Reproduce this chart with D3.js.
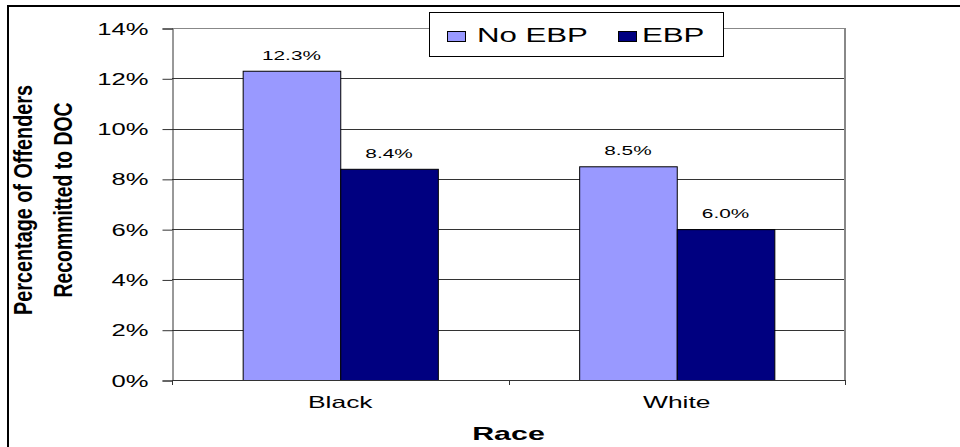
<!DOCTYPE html>
<html>
<head>
<meta charset="utf-8">
<script src="https://cdn.jsdelivr.net/npm/d3@7"></script>
<style>
  html, body { margin: 0; padding: 0; background: #fff; }
  svg { display: block; font-family: "Liberation Sans", Arial, sans-serif; }
</style>
</head>
<body>
<svg id="chart" width="960" height="447"></svg>
<script>
// Recommitment rates by race, with and without evidence-based practices
const categories = ["Black", "White"];
const seriesNames = ["No EBP", "EBP"];
const noEbpValues = [0.123, 0.085];
const ebpValues = [0.084, 0.060];
const yTicks = [0, 0.02, 0.04, 0.06, 0.08, 0.10, 0.12, 0.14];
const yTitleLines = ["Percentage of Offenders", "Recommitted to DOC"];
const xTitle = "Race";

const colors = { "No EBP": "#9999ff", "EBP": "#000080" };
const SX = 1.6; // horizontal glyph stretch used throughout

const svg = d3.select("#chart");
const plot = { left: 172, right: 845, top: 28, bottom: 380 };

// outer frame
svg.append("rect")
  .attr("x", 8).attr("y", 6).attr("width", 1000).attr("height", 500)
  .attr("fill", "none").attr("stroke", "#000").attr("stroke-width", 2);

const y = d3.scaleLinear().domain([0, 0.14]).range([plot.bottom, plot.top]);
const x0 = d3.scaleBand().domain(categories).range([plot.left, plot.right]);
const bw = x0.bandwidth();
const x1 = d3.scaleBand().domain(seriesNames).range([bw * 0.21, bw * 0.79]);

function stretchedText(sel, x, yy, txt, anchor) {
  return sel.append("text")
    .attr("transform", `translate(${x},${yy}) scale(${SX},1)`)
    .attr("text-anchor", anchor || "middle")
    .text(txt);
}

// gridlines
svg.append("g").selectAll("line").data(yTicks.slice(1)).join("line")
  .attr("x1", plot.left).attr("x2", plot.right)
  .attr("y1", d => Math.round(y(d)) + 0.5).attr("y2", d => Math.round(y(d)) + 0.5)
  .attr("stroke", d => d === 0.14 ? "#888" : "#333").attr("stroke-width", 1);

// right border of plot area
svg.append("line")
  .attr("x1", plot.right).attr("x2", plot.right)
  .attr("y1", plot.top).attr("y2", plot.bottom)
  .attr("stroke", "#888").attr("stroke-width", 2);

// bars
const rows = categories.map((c, i) => ({ cat: c, vals: [
  { s: "No EBP", v: noEbpValues[i] }, { s: "EBP", v: ebpValues[i] } ] }));

const groups = svg.append("g").selectAll("g").data(rows).join("g")
  .attr("transform", d => `translate(${x0(d.cat)},0)`);

groups.selectAll("rect").data(d => d.vals).join("rect")
  .attr("x", d => x1(d.s) + 0.5)
  .attr("y", d => y(d.v) + 0.5)
  .attr("width", x1.bandwidth())
  .attr("height", d => y(0) - y(d.v))
  .attr("fill", d => colors[d.s])
  .attr("stroke", "#000").attr("stroke-width", 1);

groups.each(function(d) {
  const g = d3.select(this);
  d.vals.forEach(v => {
    stretchedText(g, x1(v.s) + x1.bandwidth() / 2, y(v.v) - 11, (v.v * 100).toFixed(1) + "%")
      .attr("font-size", 13).attr("fill", "#000");
  });
});

// y axis
const yAxis = d3.axisLeft(y).tickValues(yTicks).tickSize(10).tickFormat(d3.format(".0%"));
const yg = svg.append("g").attr("transform", `translate(${plot.left + 0.5},0.5)`).call(yAxis);
yg.select(".domain").attr("stroke", "#333");
yg.selectAll(".tick line").attr("stroke", "#333");
yg.selectAll(".tick text").remove();
yg.selectAll(".tick").each(function(d) {
  stretchedText(d3.select(this), -24, 5.5, d3.format(".0%")(d), "end")
    .attr("font-size", 16).attr("fill", "#000");
});

// x axis
const xTickPos = [plot.left, (plot.left + plot.right) / 2, plot.right];
svg.append("line")
  .attr("x1", plot.left).attr("x2", plot.right)
  .attr("y1", plot.bottom + 0.5).attr("y2", plot.bottom + 0.5)
  .attr("stroke", "#333");
svg.append("g").selectAll("line").data(xTickPos).join("line")
  .attr("x1", d => Math.round(d) + 0.5).attr("x2", d => Math.round(d) + 0.5)
  .attr("y1", plot.bottom).attr("y2", plot.bottom + 5)
  .attr("stroke", "#333");

categories.forEach(c => {
  stretchedText(svg, x0(c) + bw / 2, 408, c).attr("font-size", 16.5).attr("fill", "#000");
});

// axis titles
stretchedText(svg, (plot.left + plot.right) / 2, 440, xTitle)
  .attr("font-size", 19).attr("font-weight", "bold").attr("fill", "#000");

const yTitleX = [32, 72];
const yTitleLen = [230, 195];
yTitleLines.forEach((t, i) => {
  svg.append("text")
    .attr("transform", `translate(${yTitleX[i]},200) rotate(-90) scale(1,1.2)`)
    .attr("text-anchor", "middle")
    .attr("font-size", 21).attr("font-weight", "bold")
    .attr("textLength", yTitleLen[i]).attr("lengthAdjust", "spacingAndGlyphs")
    .text(t);
});

// legend
const legend = svg.append("g");
legend.append("rect")
  .attr("x", 429.5).attr("y", 12.5).attr("width", 294).attr("height", 44)
  .attr("fill", "#fff").attr("stroke", "#000").attr("stroke-width", 1);
const legendItems = [
  { s: "No EBP", sx: 447, tx: 477 },
  { s: "EBP", sx: 618, tx: 642 }
];
legendItems.forEach(it => {
  legend.append("rect")
    .attr("x", it.sx + 0.5).attr("y", 31.5).attr("width", 18).attr("height", 10)
    .attr("fill", colors[it.s]).attr("stroke", "#000").attr("stroke-width", 1);
  stretchedText(legend, it.tx, 42, it.s, "start").attr("font-size", 19.5).attr("fill", "#000");
});
</script>
</body>
</html>
